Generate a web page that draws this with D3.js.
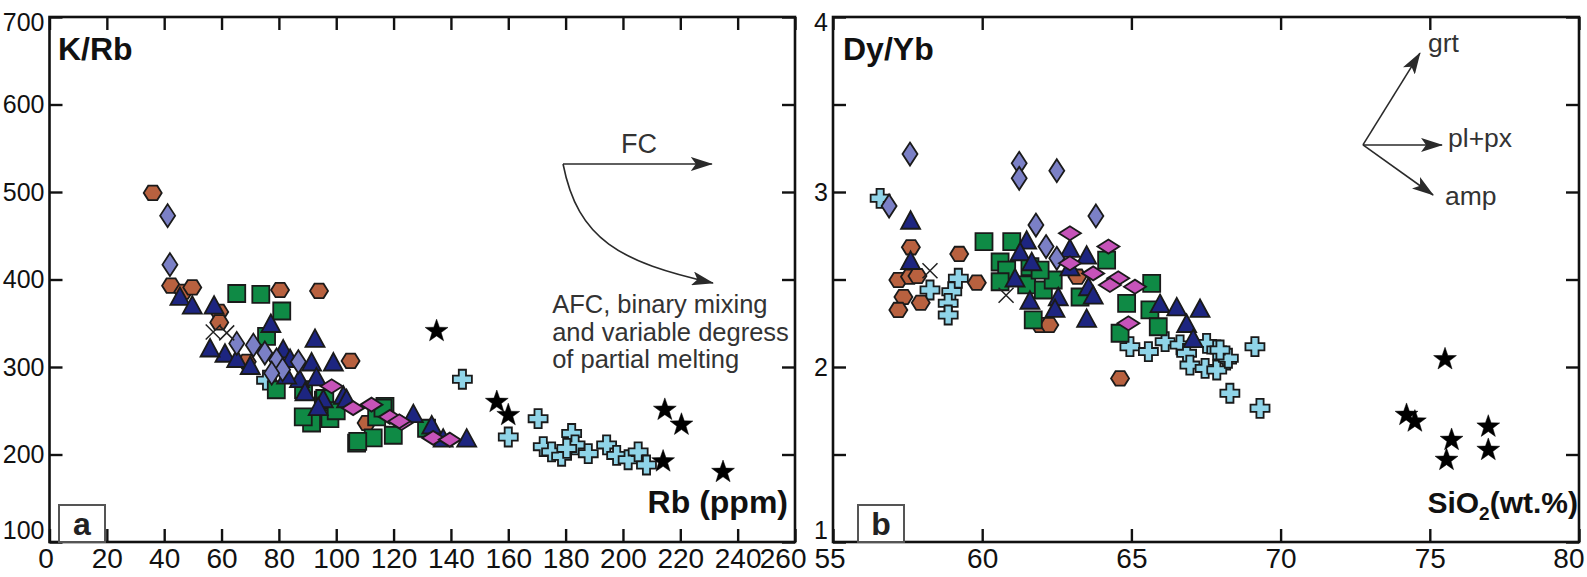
<!DOCTYPE html>
<html><head><meta charset="utf-8">
<script src="https://cdn.jsdelivr.net/npm/d3@7"></script>
<style>
html,body{margin:0;padding:0;background:#fff;}
svg{display:block;}
</style></head>
<body>
<svg id="chart" width="1587" height="577"></svg>
<script>
// ---------------- Panel a : K/Rb vs Rb (ppm) ----------------
const aXTicks = [0,20,40,60,80,100,120,140,160,180,200,220,240,260];
const aYTicks = [100,200,300,400,500,600,700];
const aHexagon = [[36,499],[42.4,393],[46.7,386],[49.8,391],[59.2,363],[59.2,351],[80.4,388],[94,387],[105,307],[68.8,306],[110.6,236]];
const aSquare = [[65.3,384],[73.7,383],[81,364],[75.7,335],[95.5,262],[97.8,241],[91.4,236],[88.5,243],[107.1,213],[112.9,219],[119.9,222],[117,255],[114.1,243],[131.5,230],[116.3,253],[107.5,215],[88.6,274],[96,264],[79.1,274],[100,250]];
const aTriangle = [[45.5,379],[49.8,369],[57.4,369],[77.2,348],[92.6,331],[61.2,314],[65.3,308],[81.5,319],[83.9,308],[91.4,304],[99,304],[87.2,285],[93.1,287],[82.7,289],[89.1,270],[95.5,262],[102.5,266],[103.6,262],[93.7,253],[126.9,245],[133.3,232],[137.3,217],[145.5,217],[56,320],[70,300]];
const aDiamondBlue = [[41.2,473],[42,417],[65.3,327],[71.1,325],[75.1,316],[79.2,308],[81.3,297],[86.8,306],[77.5,293]];
const aDiamondPink = [[98.4,278],[105.9,253],[112.3,257],[122.8,236],[133.8,219],[118.7,243],[139.6,217],[122,238]];
const aCross = [[75.7,285],[144,286],[160,220],[170.4,241],[172.2,209],[175.1,203],[178.6,198],[182.1,224],[183.3,211],[187.9,201],[194.3,211],[197.8,199],[201.8,194],[205.3,203],[208.2,188],[180.4,207]];
const aStar = [[135,341],[156,260],[160,245],[214.6,251],[220.4,234],[214,192],[234.9,180]];
const aXmark = [[57.1,340],[61.8,339]];

// ---------------- Panel b : Dy/Yb vs SiO2 (wt.%) ----------------
const bXTicks = [55,60,65,70,75,80];
const bYTicks = [1,1.5,2,2.5,3,3.5,4];
const bHexagon = [[57.61,2.684],[57.19,2.497],[57.58,2.516],[57.83,2.52],[57.36,2.40],[57.19,2.326],[57.94,2.367],[59.23,2.646],[59.82,2.482],[61.94,2.24],[62.25,2.24],[63.19,2.516],[64.62,1.935]];
const bSquare = [[60.06,2.716],[60.99,2.716],[60.6,2.60],[60.82,2.554],[61.6,2.573],[60.6,2.487],[61.49,2.469],[62.05,2.44],[62.38,2.497],[61.94,2.554],[61.71,2.269],[63.28,2.40],[64.17,2.611],[65.68,2.478],[64.84,2.364],[65.62,2.326],[65.9,2.23],[64.62,2.193]];
const bTriangle = [[57.6,2.83],[57.6,2.6],[61.49,2.716],[61.27,2.65],[61.66,2.593],[61.6,2.373],[62.55,2.393],[62.44,2.326],[63.5,2.269],[62.94,2.669],[63.5,2.631],[63.56,2.45],[63.72,2.402],[62.94,2.564],[65.96,2.354],[66.52,2.335],[67.3,2.326],[66.85,2.24],[67.07,2.154],[61.1,2.5]];
const bDiamondBlue = [[57.58,3.217],[56.88,2.92],[61.24,3.164],[61.24,3.078],[62.5,3.122],[63.81,2.863],[61.8,2.811],[62.14,2.688],[62.5,2.621]];
const bDiamondPink = [[62.94,2.764],[64.23,2.688],[62.94,2.593],[63.72,2.535],[64.56,2.507],[65.12,2.459],[64.28,2.469],[64.9,2.25]];
const bCross = [[56.58,2.964],[58.25,2.44],[58.98,2.43],[59.2,2.507],[58.86,2.364],[58.86,2.297],[64.95,2.116],[65.57,2.088],[66.13,2.145],[66.63,2.126],[66.85,2.078],[67.52,2.135],[67.86,2.097],[68.19,2.04],[66.96,2.011],[67.47,1.992],[67.86,1.983],[68.3,1.85],[69.14,2.116],[69.31,1.764],[68.25,2.05],[67.97,2.097]];
const bStar = [[75.51,2.044],[74.22,1.726],[74.5,1.688],[75.73,1.583],[75.56,1.469],[76.96,1.659],[76.96,1.526]];
const bXmark = [[58.25,2.55],[60.8,2.41]];

// ---------------- drawing ----------------
const FONT = '"Liberation Sans", Arial, sans-serif';
const NARROW = '"Liberation Sans Narrow", "Arial Narrow", "Liberation Sans", sans-serif';
const svg = d3.select('#chart');
const line = d3.line();
const poly = pts => line(pts) + 'Z';

const shapes = {
  hexagon: () => { const w=9, h=7.2; return poly([[-w,0],[-w/2,-h],[w/2,-h],[w,0],[w/2,h],[-w/2,h]]); },
  square: () => { const s=8.5; return poly([[-s,-s],[s,-s],[s,s],[-s,s]]); },
  triangle: () => { const w=9.5; return poly([[0,-10.5],[w,7],[-w,7]]); },
  diamondTall: () => poly([[0,-11.5],[7.5,0],[0,11.5],[-7.5,0]]),
  diamondWide: () => poly([[-11,0],[0,-7],[11,0],[0,7]]),
  cross: () => { const a=9.5, t=3.6; return poly([[-t,-a],[t,-a],[t,-t],[a,-t],[a,t],[t,t],[t,a],[-t,a],[-t,t],[-a,t],[-a,-t],[-t,-t]]); },
  star: () => { const pts=[]; for(let i=0;i<10;i++){ const r = i%2===0 ? 12 : 4.8; const ang = -Math.PI/2 + i*Math.PI/5; pts.push([r*Math.cos(ang), r*Math.sin(ang)]); } return poly(pts); },
  xmark: () => { const s=7.5; return `M${-s},${-s}L${s},${s}M${-s},${s}L${s},${-s}`; }
};

function makeSeries(hex, sq, tri, dBlue, dPink, cross, star, xm){
  return [
    {data: cross, shape:'cross', fill:'#8fd4e8', stroke:'#1a1a1a', sw:1.8},
    {data: hex, shape:'hexagon', fill:'#b8613f', stroke:'#1a1a1a', sw:1.8},
    {data: sq, shape:'square', fill:'#0f8a45', stroke:'#1a1a1a', sw:1.8},
    {data: tri, shape:'triangle', fill:'#1d2580', stroke:'#1a1a1a', sw:1.8},
    {data: dBlue, shape:'diamondTall', fill:'#7b80c6', stroke:'#1a1a1a', sw:1.8},
    {data: dPink, shape:'diamondWide', fill:'#c653b9', stroke:'#1a1a1a', sw:1.8},
    {data: star, shape:'star', fill:'#000', stroke:'#000', sw:0.5},
    {data: xm, shape:'xmark', fill:'none', stroke:'#222', sw:1.5}
  ];
}

const panels = [
  { x: d3.scaleLinear([0,260],[49.5,795]), y: d3.scaleLinear([100,700],[542,17]),
    xTicks:aXTicks, yTicks:aYTicks, labelY: d=>d, series: makeSeries(aHexagon,aSquare,aTriangle,aDiamondBlue,aDiamondPink,aCross,aStar,aXmark) },
  { x: d3.scaleLinear([55,80],[833,1579]), y: d3.scaleLinear([1,4],[542,17]),
    xTicks:bXTicks, yTicks:bYTicks, labelY: d=>Number.isInteger(d)?d:'', series: makeSeries(bHexagon,bSquare,bTriangle,bDiamondBlue,bDiamondPink,bCross,bStar,bXmark) }
];

const defs = svg.append('defs');
defs.append('marker').attr('id','ah').attr('viewBox','0 0 22 14').attr('refX',21).attr('refY',7)
  .attr('markerWidth',22).attr('markerHeight',14).attr('markerUnits','userSpaceOnUse').attr('orient','auto')
  .append('path').attr('d','M0,0L22,7L0,14L5,7Z').attr('fill','#2a2a2a');

panels.forEach((p, pi) => {
  const g = svg.append('g');
  const [x0,x1] = p.x.range(), [y0,y1] = p.y.range();
  const tk = 13;
  const xmin = p.x.domain()[0], xmax = p.x.domain()[1];
  // bottom axis
  const gb = g.append('g').attr('transform',`translate(0,${y0})`)
    .call(d3.axisBottom(p.x).tickValues(p.xTicks).tickSize(-tk).tickPadding(6));
  gb.selectAll('text').style('font-family',NARROW).style('font-size','28px').attr('fill','#111');
  if (pi === 0) {
    gb.selectAll('.tick').filter(d=>d===xmin).select('text').attr('dx', -4);
    gb.selectAll('.tick').filter(d=>d===xmax).select('text').attr('text-anchor','end').attr('dx', 11);
  } else {
    gb.selectAll('.tick').filter(d=>d===xmin).select('text').attr('text-anchor','start').attr('dx', -19);
    gb.selectAll('.tick').filter(d=>d===xmax).select('text').attr('text-anchor','end').attr('dx', 5);
  }
  // top axis
  g.append('g').attr('transform',`translate(0,${y1})`)
    .call(d3.axisTop(p.x).tickValues(p.xTicks).tickSize(-tk).tickFormat(''));
  // left axis
  const gl = g.append('g').attr('transform',`translate(${x0},0)`)
    .call(d3.axisLeft(p.y).tickValues(p.yTicks).tickSize(-tk).tickPadding(5).tickFormat(p.labelY));
  gl.selectAll('text').style('font-family',FONT).style('font-size','25px').attr('fill','#111');
  const ymax = p.y.domain()[1], ymin = p.y.domain()[0];
  gl.selectAll('.tick').filter(d=>d===ymax).select('text').attr('dy','0.55em');
  gl.selectAll('.tick').filter(d=>d===ymin).select('text').attr('dy','-0.14em');
  // right axis
  g.append('g').attr('transform',`translate(${x1},0)`)
    .call(d3.axisRight(p.y).tickValues(p.yTicks).tickSize(-tk).tickFormat(''));
  g.selectAll('.domain').remove();
  g.selectAll('.tick line').attr('stroke','#111').attr('stroke-width',2.4);
  // frame
  g.append('rect').attr('x',x0).attr('y',y1).attr('width',x1-x0).attr('height',y0-y1)
    .attr('fill','none').attr('stroke','#111').attr('stroke-width',2.6);

  // points
  const pg = g.append('g');
  p.series.forEach(s => {
    pg.append('g').selectAll('path').data(s.data).join('path')
      .attr('d', shapes[s.shape]())
      .attr('transform', d => `translate(${p.x(d[0])},${p.y(d[1])})`)
      .attr('fill', s.fill).attr('stroke', s.stroke).attr('stroke-width', s.sw)
      .attr('stroke-linejoin','miter');
  });
});

// ---------------- annotations panel a ----------------
(function(){
  const p = panels[0], x = p.x, y = p.y;
  const g = svg.append('g');
  g.append('text').attr('x',58).attr('y',60).text('K/Rb')
    .style('font-family',FONT).style('font-size','32px').style('font-weight','bold').attr('fill','#111');
  g.append('text').attr('x',788).attr('y',513).attr('text-anchor','end').text('Rb (ppm)')
    .style('font-family',FONT).style('font-size','32px').style('font-weight','bold').attr('fill','#111');
  g.append('rect').attr('x',59).attr('y',505).attr('width',46).attr('height',37)
    .attr('fill','#fff').attr('stroke','#555').attr('stroke-width',2);
  g.append('text').attr('x',82).attr('y',535).attr('text-anchor','middle').text('a')
    .style('font-family',FONT).style('font-size','32px').style('font-weight','bold').attr('fill','#222');
  // FC arrow
  const sx = x(179.1), sy = y(532);
  g.append('path').attr('d',`M${sx},${sy}L${x(231)},${sy}`).attr('stroke','#2a2a2a').attr('stroke-width',1.6)
    .attr('fill','none').attr('marker-end','url(#ah)');
  g.append('path').attr('d',`M${sx},${sy}C${sx+15},${sy+76} ${sx+57},${sy+98} ${x(231.4)},${y(396)}`)
    .attr('stroke','#2a2a2a').attr('stroke-width',1.6).attr('fill','none').attr('marker-end','url(#ah)');
  g.append('text').attr('x',x(205.6)).attr('y',y(544.6)).attr('text-anchor','middle').text('FC')
    .style('font-family',FONT).style('font-size','27px').attr('fill','#333');
  const t = g.append('text').attr('x',x(175.3)).attr('y',y(361.7))
    .style('font-family',FONT).style('font-size','25.5px').attr('fill','#333');
  ['AFC, binary mixing','and variable degress','of partial melting'].forEach((s,i)=>{
    t.append('tspan').attr('x',x(175.3)).attr('dy', i===0?0:27.5).text(s);
  });
})();

// ---------------- annotations panel b ----------------
(function(){
  const p = panels[1], x = p.x, y = p.y;
  const g = svg.append('g');
  g.append('text').attr('x',843).attr('y',60).text('Dy/Yb')
    .style('font-family',FONT).style('font-size','32px').style('font-weight','bold').attr('fill','#111');
  const st = g.append('text').attr('x',1578).attr('y',513).attr('text-anchor','end')
    .style('font-family',FONT).style('font-size','30px').style('font-weight','bold').attr('fill','#111');
  st.append('tspan').text('SiO');
  st.append('tspan').attr('dy',7).style('font-size','19px').text('2');
  st.append('tspan').attr('dy',-7).text('(wt.%)');
  g.append('rect').attr('x',858).attr('y',505).attr('width',46).attr('height',37)
    .attr('fill','#fff').attr('stroke','#555').attr('stroke-width',2);
  g.append('text').attr('x',881).attr('y',535).attr('text-anchor','middle').text('b')
    .style('font-family',FONT).style('font-size','32px').style('font-weight','bold').attr('fill','#222');
  const ox = x(72.76), oy = y(3.269);
  [[74.67,3.794],[75.41,3.269],[75.11,2.983]].forEach(e=>{
    g.append('path').attr('d',`M${ox},${oy}L${x(e[0])},${y(e[1])}`).attr('stroke','#2a2a2a')
      .attr('stroke-width',1.6).attr('fill','none').attr('marker-end','url(#ah)');
  });
  [['grt',74.94,3.8],['pl+px',75.61,3.257],['amp',75.51,2.926]].forEach(l=>{
    g.append('text').attr('x',x(l[1])).attr('y',y(l[2])).text(l[0])
      .style('font-family',FONT).style('font-size','26.5px').attr('fill','#333');
  });
})();
</script>
</body></html>
